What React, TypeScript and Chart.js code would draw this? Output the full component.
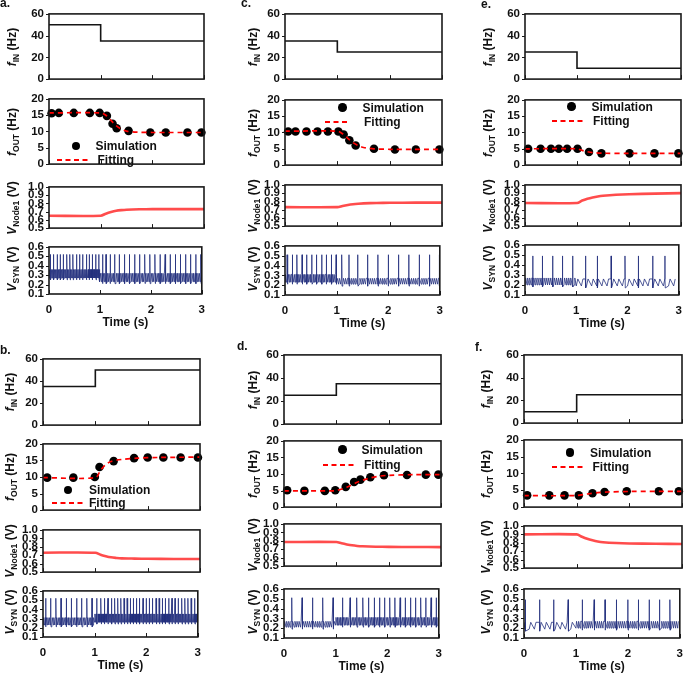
import React, { useEffect, useRef } from 'react';
import { Chart, registerables } from 'chart.js';

Chart.register(...registerables);

// ---------------- DATA ----------------
const TIME_TICKS = [0, 1, 2, 3];
const FIN_TICKS = [0, 20, 40, 60];
const FOUT_TICKS = [0, 5, 10, 15, 20];
const VNODE_TICKS = [0.5, 0.6, 0.7, 0.8, 0.9, 1.0];
const VSYN_TICKS = [0.1, 0.2, 0.3, 0.4, 0.5, 0.6];

// f_IN step: value holds from each time up to the next one
const STEP_TIMES = [0, 1, 3];
const FIN_A = [50, 35, 35];
const FIN_B = [35, 50, 50];
const FIN_C = [35, 25, 25];
const FIN_D = [25, 35, 35];
const FIN_E = [25, 10, 10];
const FIN_F = [10, 25, 25];

// f_OUT simulation points
const SIM_T_A = [0.05, 0.19, 0.48, 0.79, 0.98, 1.12, 1.23, 1.31, 1.54, 1.96, 2.26, 2.68, 2.95];
const SIM_A = [15.6, 15.7, 15.7, 15.7, 15.7, 14.8, 12.4, 11.0, 10.2, 9.7, 9.7, 9.7, 9.7];
const SIM_T_B = [0.08, 0.58, 0.99, 1.08, 1.35, 1.74, 2.0, 2.3, 2.63, 2.96];
const SIM_B = [9.8, 9.8, 10.0, 13.0, 14.8, 15.7, 15.9, 15.9, 15.9, 15.9];
const SIM_T_C = [0.06, 0.2, 0.41, 0.62, 0.82, 1.02, 1.12, 1.23, 1.35, 1.7, 2.1, 2.5, 2.95];
const SIM_C = [10.3, 10.3, 10.3, 10.3, 10.3, 10.3, 9.4, 7.6, 6.0, 5.0, 4.8, 4.8, 4.8];
const SIM_T_D = [0.06, 0.39, 0.78, 0.98, 1.18, 1.34, 1.46, 1.65, 1.91, 2.35, 2.71, 2.95];
const SIM_D = [5.1, 4.9, 4.9, 5.1, 6.1, 7.6, 8.3, 9.0, 9.6, 9.7, 9.8, 9.8];
const SIM_T_E = [0.06, 0.3, 0.5, 0.65, 0.81, 1.01, 1.23, 1.47, 2.01, 2.49, 2.95];
const SIM_E = [5.0, 5.0, 5.0, 5.0, 5.0, 5.0, 4.0, 3.6, 3.6, 3.6, 3.6];
const SIM_T_F = [0.06, 0.48, 0.77, 1.04, 1.3, 1.53, 1.95, 2.56, 2.94];
const SIM_F = [3.5, 3.5, 3.5, 3.5, 4.1, 4.5, 4.7, 4.7, 4.7];

// f_OUT fitting curves
const FIT_T_A = [0, 1.0, 1.1, 1.2, 1.3, 1.4, 1.5, 1.7, 2.0, 3.0];
const FIT_A = [15.7, 15.7, 15.0, 13.4, 11.8, 10.7, 10.1, 9.8, 9.7, 9.7];
const FIT_T_B = [0, 1.0, 1.1, 1.2, 1.3, 1.5, 1.8, 2.2, 3.0];
const FIT_B = [9.8, 9.8, 12.0, 13.8, 14.7, 15.3, 15.7, 15.9, 16.0];
const FIT_T_C = [0, 1.0, 1.1, 1.2, 1.3, 1.4, 1.5, 1.7, 2.0, 3.0];
const FIT_C = [10.4, 10.4, 9.6, 8.2, 6.9, 6.0, 5.4, 5.0, 4.85, 4.8];
const FIT_T_D = [0, 0.9, 1.0, 1.2, 1.4, 1.6, 1.8, 2.0, 2.5, 3.0];
const FIT_D = [4.9, 4.9, 5.0, 6.0, 7.5, 8.6, 9.3, 9.6, 9.8, 9.8];
const FIT_T_E = [0, 1.0, 1.1, 1.2, 1.3, 1.5, 2.0, 3.0];
const FIT_E = [5.0, 5.0, 4.5, 4.1, 3.85, 3.65, 3.6, 3.6];
const FIT_T_F = [0, 1.0, 1.2, 1.4, 1.6, 2.0, 3.0];
const FIT_F = [3.4, 3.45, 3.9, 4.3, 4.5, 4.65, 4.7];

// V_Node1
const VNODE_T = [0, 1.0, 1.1, 1.2, 1.3, 1.4, 1.5, 1.75, 2.0, 2.5, 3.0];
const VNODE_A = [0.65, 0.65, 0.675, 0.695, 0.71, 0.718, 0.723, 0.728, 0.73, 0.73, 0.73];
const VNODE_B = [0.73, 0.73, 0.705, 0.688, 0.675, 0.668, 0.663, 0.66, 0.658, 0.656, 0.655];
const VNODE_C = [0.73, 0.73, 0.745, 0.757, 0.766, 0.772, 0.776, 0.781, 0.783, 0.785, 0.785];
const VNODE_D = [0.785, 0.785, 0.77, 0.757, 0.746, 0.739, 0.735, 0.73, 0.728, 0.726, 0.725];
const VNODE_E = [0.78, 0.78, 0.81, 0.832, 0.848, 0.86, 0.868, 0.88, 0.887, 0.894, 0.9];
const VNODE_F = [0.9, 0.9, 0.872, 0.848, 0.83, 0.816, 0.807, 0.797, 0.792, 0.788, 0.786];

// V_SYN output spike times (s)
const SPIKES_A = [0.03, 0.09, 0.16, 0.22, 0.28, 0.35, 0.41, 0.47, 0.54, 0.6, 0.66, 0.73, 0.79, 0.85, 0.92, 0.98, 1.05, 1.12, 1.2, 1.29, 1.38, 1.48, 1.58, 1.68, 1.78, 1.88, 1.98, 2.08, 2.18, 2.28, 2.38, 2.48, 2.58, 2.68, 2.78, 2.88, 2.98];
const SPIKES_B = [0.05, 0.15, 0.25, 0.35, 0.45, 0.55, 0.65, 0.75, 0.85, 0.95, 1.04, 1.12, 1.19, 1.26, 1.33, 1.39, 1.45, 1.51, 1.57, 1.63, 1.69, 1.75, 1.81, 1.87, 1.94, 2.0, 2.06, 2.12, 2.19, 2.25, 2.31, 2.37, 2.44, 2.5, 2.56, 2.62, 2.69, 2.75, 2.81, 2.87, 2.94];
const SPIKES_C = [0.04, 0.14, 0.23, 0.33, 0.42, 0.52, 0.61, 0.71, 0.8, 0.9, 0.99, 1.1, 1.24, 1.41, 1.6, 1.8, 2.0, 2.2, 2.4, 2.6, 2.8, 2.99];
const SPIKES_D = [0.15, 0.35, 0.55, 0.75, 0.95, 1.13, 1.28, 1.41, 1.53, 1.64, 1.75, 1.85, 1.95, 2.05, 2.15, 2.25, 2.35, 2.45, 2.55, 2.65, 2.75, 2.85, 2.95];
const SPIKES_E = [0.15, 0.34, 0.54, 0.73, 0.93, 1.18, 1.41, 1.68, 1.95, 2.21, 2.49, 2.73];
const SPIKES_F = [0.025, 0.3, 0.57, 0.85, 1.12, 1.35, 1.56, 1.78, 2.0, 2.2, 2.41, 2.61, 2.81];

// V_SYN baseline levels [low, high] before / after the step, and spike peak
const VSYN_PRE_A = [0.27, 0.36]; const VSYN_POST_A = [0.23, 0.32]; const VSYN_PEAK_A = 0.52;
const VSYN_PRE_B = [0.23, 0.31]; const VSYN_POST_B = [0.26, 0.35]; const VSYN_PEAK_B = 0.52;
const VSYN_PRE_C = [0.23, 0.31]; const VSYN_POST_C = [0.21, 0.27]; const VSYN_PEAK_C = 0.51;
const VSYN_PRE_D = [0.21, 0.27]; const VSYN_POST_D = [0.23, 0.31]; const VSYN_PEAK_D = 0.51;
const VSYN_PRE_E = [0.2, 0.27]; const VSYN_POST_E = [0.19, 0.26]; const VSYN_PEAK_E = 0.49;
const VSYN_PRE_F = [0.19, 0.26]; const VSYN_POST_F = [0.2, 0.27]; const VSYN_PEAK_F = 0.49;

// ---------------- helpers ----------------
type Pt = { x: number; y: number };
const zip = (xs: number[], ys: number[]): Pt[] => xs.map((x, i) => ({ x, y: ys[i] }));

// input pulse train implied by the f_IN values
function inputPulses(fin: number[]) {
  const out: { t: number; P: number; seg: number }[] = [];
  for (let s = 0; s < STEP_TIMES.length - 1; s++) {
    const P = 1 / fin[s];
    for (let t = STEP_TIMES[s]; t < STEP_TIMES[s + 1] - 1e-9; t += P) out.push({ t, P, seg: s });
  }
  return out;
}

function vsynTable(fin: number[], spikes: number[], pre: number[], post: number[], peak: number): Pt[] {
  const pts: Pt[] = [];
  for (const { t, P, seg } of inputPulses(fin)) {
    const [lo, hi] = seg === 0 ? pre : post;
    pts.push({ x: t, y: lo }, { x: t + 0.3 * P, y: hi });
  }
  for (const s of spikes) {
    const [lo, hi] = s < 1 ? pre : post;
    pts.push({ x: s - 0.003, y: hi }, { x: s, y: peak }, { x: s + 0.006, y: lo - 0.02 });
  }
  pts.sort((a, b) => a.x - b.x);
  return pts.filter((p) => p.x >= 0 && p.x <= 3);
}

const FONT = "'Liberation Sans', Arial, Helvetica, sans-serif";
Chart.defaults.font.family = FONT;

type Kind = 'fin' | 'fout' | 'vnode' | 'vsyn';
const KIND_TICKS: Record<Kind, number[]> = { fin: FIN_TICKS, fout: FOUT_TICKS, vnode: VNODE_TICKS, vsyn: VSYN_TICKS };
const KIND_DEC: Record<Kind, number> = { fin: 0, fout: 0, vnode: 1, vsyn: 1 };

interface FigData {
  fin: number[]; simT: number[]; sim: number[]; fitT: number[]; fit: number[];
  vnode: number[]; spikes: number[]; pre: number[]; post: number[]; peak: number;
}
interface Fig {
  letter: string; lx: number; lbase: number; L: number; R: number; rows: number[][]; tx: number;
  leg: { cx: number; cy: number; tx: number; d1: number; d2: number; dy: number; fx: number };
  d: FigData;
}

const FIGS: Fig[] = [
  { letter: 'a.', lx: 0, lbase: 8, L: 49, R: 204, rows: [[10, 83], [95, 168], [183, 232], [243, 294]], tx: 11.5,
    leg: { cx: 76, cy: 146, tx: 95.5, d1: 57, d2: 90, dy: 160, fx: 97.5 },
    d: { fin: FIN_A, simT: SIM_T_A, sim: SIM_A, fitT: FIT_T_A, fit: FIT_A, vnode: VNODE_A, spikes: SPIKES_A, pre: VSYN_PRE_A, post: VSYN_POST_A, peak: VSYN_PEAK_A } },
  { letter: 'c.', lx: 241, lbase: 7.5, L: 285, R: 442, rows: [[10, 83], [96, 169], [181, 230], [242, 295]], tx: 252.5,
    leg: { cx: 342.5, cy: 107.5, tx: 362.5, d1: 325, d2: 350, dy: 121.5, fx: 364 },
    d: { fin: FIN_C, simT: SIM_T_C, sim: SIM_C, fitT: FIT_T_C, fit: FIT_C, vnode: VNODE_C, spikes: SPIKES_C, pre: VSYN_PRE_C, post: VSYN_POST_C, peak: VSYN_PEAK_C } },
  { letter: 'e.', lx: 481, lbase: 8.5, L: 525, R: 681, rows: [[10, 83], [96, 169], [181, 230], [241, 295]], tx: 487.5,
    leg: { cx: 571.5, cy: 106.5, tx: 591.5, d1: 552, d2: 585, dy: 120.5, fx: 593 },
    d: { fin: FIN_E, simT: SIM_T_E, sim: SIM_E, fitT: FIT_T_E, fit: FIT_E, vnode: VNODE_E, spikes: SPIKES_E, pre: VSYN_PRE_E, post: VSYN_POST_E, peak: VSYN_PEAK_E } },
  { letter: 'b.', lx: 0, lbase: 355, L: 43, R: 200, rows: [[355, 429], [440, 514], [526, 576], [587, 637]], tx: 10,
    leg: { cx: 68, cy: 490, tx: 89, d1: 52, d2: 85, dy: 503, fx: 89 },
    d: { fin: FIN_B, simT: SIM_T_B, sim: SIM_B, fitT: FIT_T_B, fit: FIT_B, vnode: VNODE_B, spikes: SPIKES_B, pre: VSYN_PRE_B, post: VSYN_POST_B, peak: VSYN_PEAK_B } },
  { letter: 'd.', lx: 237, lbase: 351, L: 284, R: 441, rows: [[351, 428], [437, 511], [520, 570], [585, 638]], tx: 253,
    leg: { cx: 342.5, cy: 449.5, tx: 361.5, d1: 323, d2: 357, dy: 465, fx: 364 },
    d: { fin: FIN_D, simT: SIM_T_D, sim: SIM_D, fitT: FIT_T_D, fit: FIT_D, vnode: VNODE_D, spikes: SPIKES_D, pre: VSYN_PRE_D, post: VSYN_POST_D, peak: VSYN_PEAK_D } },
  { letter: 'f.', lx: 475, lbase: 352, L: 524, R: 682, rows: [[351, 427], [436, 511], [522, 572], [585, 638]], tx: 486,
    leg: { cx: 570, cy: 452.5, tx: 590, d1: 552, d2: 585, dy: 466.5, fx: 592.5 },
    d: { fin: FIN_F, simT: SIM_T_F, sim: SIM_F, fitT: FIT_T_F, fit: FIT_F, vnode: VNODE_F, spikes: SPIKES_F, pre: VSYN_PRE_F, post: VSYN_POST_F, peak: VSYN_PEAK_F } },
];

const KINDS: Kind[] = ['fin', 'fout', 'vnode', 'vsyn'];
const PAD_L = 44, PAD_R = 10, PAD_T = 8, PAD_B = 8, X_AXIS_H = 36;

const framePlugin = {
  id: 'frame',
  afterDatasetsDraw(chart: any) {
    const { ctx, chartArea, scales } = chart;
    const { left, top, right, bottom } = chartArea;
    ctx.save();
    ctx.strokeStyle = '#1a1a1a';
    ctx.lineWidth = 1;
    const ys = scales.y;
    ys.ticks.forEach((t: any) => {
      const p = Math.round(ys.getPixelForValue(t.value)) + 0.5;
      ctx.beginPath(); ctx.moveTo(left - 3, p); ctx.lineTo(left, p); ctx.stroke();
    });
    const xs = scales.x;
    TIME_TICKS.forEach((v) => {
      const p = Math.round(xs.getPixelForValue(v)) + 0.5;
      ctx.beginPath(); ctx.moveTo(p, bottom); ctx.lineTo(p, bottom - 4); ctx.stroke();
    });
    ctx.lineWidth = 1.6;
    ctx.strokeRect(left, top, right - left, bottom - top);
    ctx.restore();
  },
};

function buildConfig(kind: Kind, d: FigData, isBottom: boolean): any {
  let datasets: any[] = [];
  if (kind === 'fin') {
    datasets = [{ data: zip(STEP_TIMES, d.fin), stepped: 'before', borderColor: '#151515', borderWidth: 1.6, pointRadius: 0 }];
  } else if (kind === 'fout') {
    datasets = [
      { data: zip(d.fitT, d.fit), borderColor: '#ff0000', borderWidth: 1.7, borderDash: [5, 4], pointRadius: 0, tension: 0.3, order: 1 },
      { data: zip(d.simT, d.sim), showLine: false, pointRadius: 4.3, pointBackgroundColor: '#000', pointBorderWidth: 0, clip: 8, order: 2 },
    ];
  } else if (kind === 'vnode') {
    datasets = [{ data: zip(VNODE_T, d.vnode), borderColor: 'rgba(255,45,45,0.85)', borderWidth: 2.6, pointRadius: 0, tension: 0.3 }];
  } else {
    datasets = [{ data: vsynTable(d.fin, d.spikes, d.pre, d.post, d.peak), borderColor: '#23307d', borderWidth: 0.8, pointRadius: 0 }];
  }
  const yt = KIND_TICKS[kind];
  const dec = KIND_DEC[kind];
  return {
    type: 'line',
    data: { datasets },
    plugins: [framePlugin],
    options: {
      animation: false,
      responsive: false,
      maintainAspectRatio: false,
      events: [],
      parsing: false,
      layout: { padding: { left: 0, right: PAD_R, top: PAD_T, bottom: isBottom ? 0 : PAD_B } },
      plugins: { legend: { display: false }, tooltip: { enabled: false } },
      scales: {
        x: {
          type: 'linear', min: TIME_TICKS[0], max: TIME_TICKS[TIME_TICKS.length - 1], display: isBottom,
          afterBuildTicks: (s: any) => { s.ticks = TIME_TICKS.map((v) => ({ value: v })); },
          afterFit: (s: any) => { if (isBottom) s.height = X_AXIS_H; },
          ticks: { autoSkip: false, maxRotation: 0, padding: 9, color: '#111', font: { size: 11.5, weight: 'bold' } },
          grid: { display: false, drawTicks: false },
          border: { display: false },
          title: { display: true, text: 'Time (s)', color: '#111', padding: 0, font: { size: 12, weight: 'bold' } },
        },
        y: {
          type: 'linear', min: yt[0], max: yt[yt.length - 1],
          afterBuildTicks: (s: any) => { s.ticks = yt.map((v) => ({ value: v })); },
          afterFit: (s: any) => { s.width = PAD_L; },
          ticks: { autoSkip: false, padding: 5, color: '#111', font: { size: 11.5, weight: 'bold' },
            callback: (v: any) => Number(v).toFixed(dec) },
          grid: { display: false, drawTicks: false },
          border: { display: false },
        },
      },
    },
  };
}

function ChartPanel({ left, top, width, height, kind, d, isBottom }: any) {
  const ref = useRef<HTMLCanvasElement>(null);
  useEffect(() => {
    const chart = new Chart(ref.current as HTMLCanvasElement, buildConfig(kind, d, isBottom));
    return () => chart.destroy();
  }, []);
  return <canvas ref={ref} width={width} height={height} style={{ position: 'absolute', left, top, width, height }} />;
}

const textBase: React.CSSProperties = { position: 'absolute', fontFamily: FONT, fontWeight: 'bold', color: '#111', whiteSpace: 'nowrap' };

function YTitle({ x, y, kind }: { x: number; y: number; kind: Kind }) {
  const main = kind === 'fin' || kind === 'fout' ? 'f' : 'V';
  const sub = { fin: 'IN', fout: 'OUT', vnode: 'Node1', vsyn: 'SYN' }[kind];
  const unit = kind === 'fin' || kind === 'fout' ? ' (Hz)' : ' (V)';
  return (
    <div style={{ ...textBase, left: x, top: y, fontSize: 12, lineHeight: '14px', transform: 'translate(-50%,-50%) rotate(-90deg)' }}>
      <i>{main}</i>
      <span style={{ fontSize: 8.5, position: 'relative', top: 3 }}>{sub}</span>
      {unit}
    </div>
  );
}

function Legend({ leg }: { leg: Fig['leg'] }) {
  const w = leg.d2 - leg.d1;
  return (
    <>
      <div style={{ position: 'absolute', left: leg.cx - 4.3, top: leg.cy - 4.3, width: 8.6, height: 8.6, borderRadius: '50%', background: '#000' }} />
      <div style={{ ...textBase, left: leg.tx, top: leg.cy - 7, fontSize: 12, lineHeight: '14px' }}>Simulation</div>
      <svg style={{ position: 'absolute', left: leg.d1, top: leg.dy - 2, overflow: 'visible' }} width={w} height={4}>
        <line x1={0} y1={2} x2={w} y2={2} stroke="#ff0000" strokeWidth={1.8} strokeDasharray="5 3.5" />
      </svg>
      <div style={{ ...textBase, left: leg.fx, top: leg.dy - 7, fontSize: 12, lineHeight: '14px' }}>Fitting</div>
    </>
  );
}

export default function App() {
  return (
    <div style={{ position: 'absolute', left: 0, top: 0, width: 685, height: 676, overflow: 'hidden', background: '#fff' }}>
      {FIGS.map((f) =>
        KINDS.map((k, i) => {
          const [t, b] = f.rows[i];
          const isBottom = i === 3;
          const left = f.L - PAD_L;
          const top = t - PAD_T;
          const width = f.R - f.L + PAD_L + PAD_R;
          const height = b - t + PAD_T + (isBottom ? X_AXIS_H : PAD_B);
          return <ChartPanel key={f.letter + k} left={left} top={top} width={width} height={height} kind={k} d={f.d} isBottom={isBottom} />;
        })
      )}
      {FIGS.map((f) =>
        KINDS.map((k, i) => (
          <YTitle key={'t' + f.letter + k} x={f.tx} y={(f.rows[i][0] + f.rows[i][1]) / 2} kind={k} />
        ))
      )}
      {FIGS.map((f) => <Legend key={'l' + f.letter} leg={f.leg} />)}
      {FIGS.map((f) => (
        <div key={'L' + f.letter} style={{ ...textBase, left: f.lx, top: f.lbase - 11, fontSize: 12, lineHeight: '13px' }}>{f.letter}</div>
      ))}
    </div>
  );
}
